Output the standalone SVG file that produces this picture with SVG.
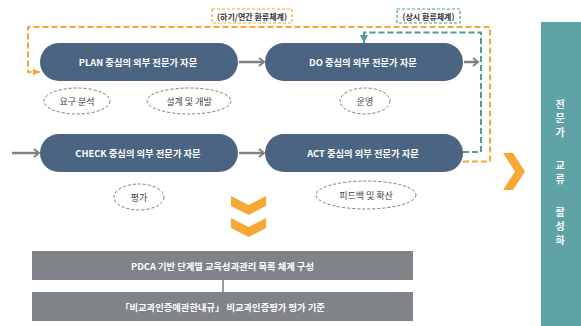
<svg xmlns="http://www.w3.org/2000/svg" width="581" height="326" viewBox="0 0 581 326">
<defs>
<style>
.pill{fill:#4b6482}
.pt{font-family:"Noto Sans CJK KR","Noto Sans",sans-serif;font-size:9.3px;font-weight:bold;fill:#fff;text-anchor:middle;dominant-baseline:central}
.ell{fill:#fff;stroke:#7a7a7a;stroke-width:1;stroke-dasharray:3 2}
.et{font-family:"Noto Sans CJK KR","Noto Sans",sans-serif;font-size:9px;fill:#444;text-anchor:middle;dominant-baseline:central}
.arr{stroke:#808080;stroke-width:2.5;fill:none;marker-end:url(#ga)}
.box{fill:#808387}
.lbl{font-family:"Noto Sans CJK KR","Noto Sans",sans-serif;font-size:8px;font-weight:bold;fill:#333;text-anchor:middle;dominant-baseline:central}
.vt{font-family:"Noto Sans CJK KR","Noto Sans",sans-serif;font-size:10px;font-weight:bold;fill:#fff;text-anchor:middle}
</style>
<marker id="ga" markerWidth="8" markerHeight="10" refX="6" refY="5" orient="auto" markerUnits="userSpaceOnUse">
<path d="M1,1 L6,5 L1,9" fill="none" stroke="#808080" stroke-width="2"/>
</marker>
<marker id="oa" markerWidth="8" markerHeight="8" refX="7" refY="4" orient="auto" markerUnits="userSpaceOnUse">
<path d="M0,0.5 L7,4 L0,7.5 Z" fill="#f5a733"/>
</marker>
<marker id="ta" markerWidth="10" markerHeight="8" refX="8" refY="4" orient="auto" markerUnits="userSpaceOnUse">
<path d="M0,0 L8,4 L0,8 Z" fill="#4f9a9c"/>
</marker>
</defs>
<rect width="581" height="326" fill="#fff"/>

<g id="connectors">
<path d="M463,161.5 H490 V27 H28 V72 H40" fill="none" stroke="#f5a733" stroke-width="2" stroke-dasharray="6 3" marker-end="url(#oa)"/>
<path d="M463,152 H481 V32.5 H364 V43" fill="none" stroke="#4f9a9c" stroke-width="2" stroke-dasharray="6 3" marker-end="url(#ta)"/>
<line x1="239" y1="62" x2="264" y2="62" class="arr"/>
<line x1="464" y1="62" x2="478" y2="62" class="arr"/>
<line x1="12" y1="153" x2="39" y2="153" class="arr"/>
<line x1="239" y1="153" x2="264" y2="153" class="arr"/>
<line x1="223" y1="280" x2="223" y2="292" stroke="#9a9a9a" stroke-width="2"/>
</g>

<g id="label-annual">
<rect x="212" y="9" width="80" height="14" fill="#fff" stroke="#f5a733" stroke-width="1.2" stroke-dasharray="3 2"/>
<text x="252" y="16" class="lbl">(하기/연간 환류체계)</text>
</g>
<g id="label-regular">
<rect x="397" y="9" width="63" height="14" fill="#fff" stroke="#4f9a9c" stroke-width="1.2" stroke-dasharray="3 2"/>
<text x="428.5" y="16" class="lbl">(상시 환류체계)</text>
</g>

<g id="plan">
<rect x="40" y="43" width="198" height="38" rx="19" class="pill"/>
<text x="138" y="62" class="pt">PLAN 중심의 외부 전문가 자문</text>
</g>
<g id="do">
<rect x="265" y="43" width="198" height="38" rx="19" class="pill"/>
<text x="363" y="62" class="pt">DO 중심의 외부 전문가 자문</text>
</g>
<g id="check">
<rect x="40" y="134" width="198" height="38" rx="19" class="pill"/>
<text x="138" y="153" class="pt">CHECK 중심의 외부 전문가 자문</text>
</g>
<g id="act">
<rect x="265" y="134" width="198" height="38" rx="19" class="pill"/>
<text x="363" y="153" class="pt">ACT 중심의 외부 전문가 자문</text>
</g>

<g id="e-req"><ellipse cx="77" cy="101" rx="33" ry="13" class="ell"/><text x="77" y="101" class="et">요구 분석</text></g>
<g id="e-design"><ellipse cx="189" cy="101" rx="42" ry="13" class="ell"/><text x="189" y="101" class="et">설계 및 개발</text></g>
<g id="e-op"><ellipse cx="365" cy="101" rx="25" ry="13" class="ell"/><text x="365" y="101" class="et">운영</text></g>
<g id="e-eval"><ellipse cx="139" cy="197" rx="25" ry="13" class="ell"/><text x="139" y="197" class="et">평가</text></g>
<g id="e-fb"><ellipse cx="366" cy="195" rx="50" ry="14" class="ell"/><text x="366" y="195" class="et">피드백 및 확산</text></g>

<g id="down-chevrons" fill="#f7a733">
<path d="M231,196 L248.5,205 L266,196 L266,206 L248.5,215 L231,206 Z"/>
<path d="M231,218 L248.5,227 L266,218 L266,228 L248.5,237 L231,228 Z"/>
</g>
<g id="right-chevron" fill="#f7a733">
<path d="M503,153 L513,153 L525,171.5 L513,190 L503,190 L515,171.5 Z"/>
</g>

<g id="box1">
<rect x="32" y="251" width="381" height="29" class="box"/>
<text x="222.5" y="265.5" class="pt">PDCA 기반 단계별 교육성과관리 목록 체계 구성</text>
</g>
<g id="box2">
<rect x="32" y="292" width="381" height="29" class="box"/>
<text x="222.5" y="306.5" class="pt">「비교과인증에관한내규」 비교과인증평가 평가 기준</text>
</g>

<g id="panel">
<rect x="541" y="22" width="40" height="304" fill="#5fa3a6"/>
<text class="vt"><tspan x="560" y="108">전</tspan><tspan x="560" y="122">문</tspan><tspan x="560" y="136">가</tspan><tspan x="560" y="169">교</tspan><tspan x="560" y="183">류</tspan><tspan x="560" y="216">활</tspan><tspan x="560" y="230">성</tspan><tspan x="560" y="244">화</tspan></text>
</g>
</svg>
